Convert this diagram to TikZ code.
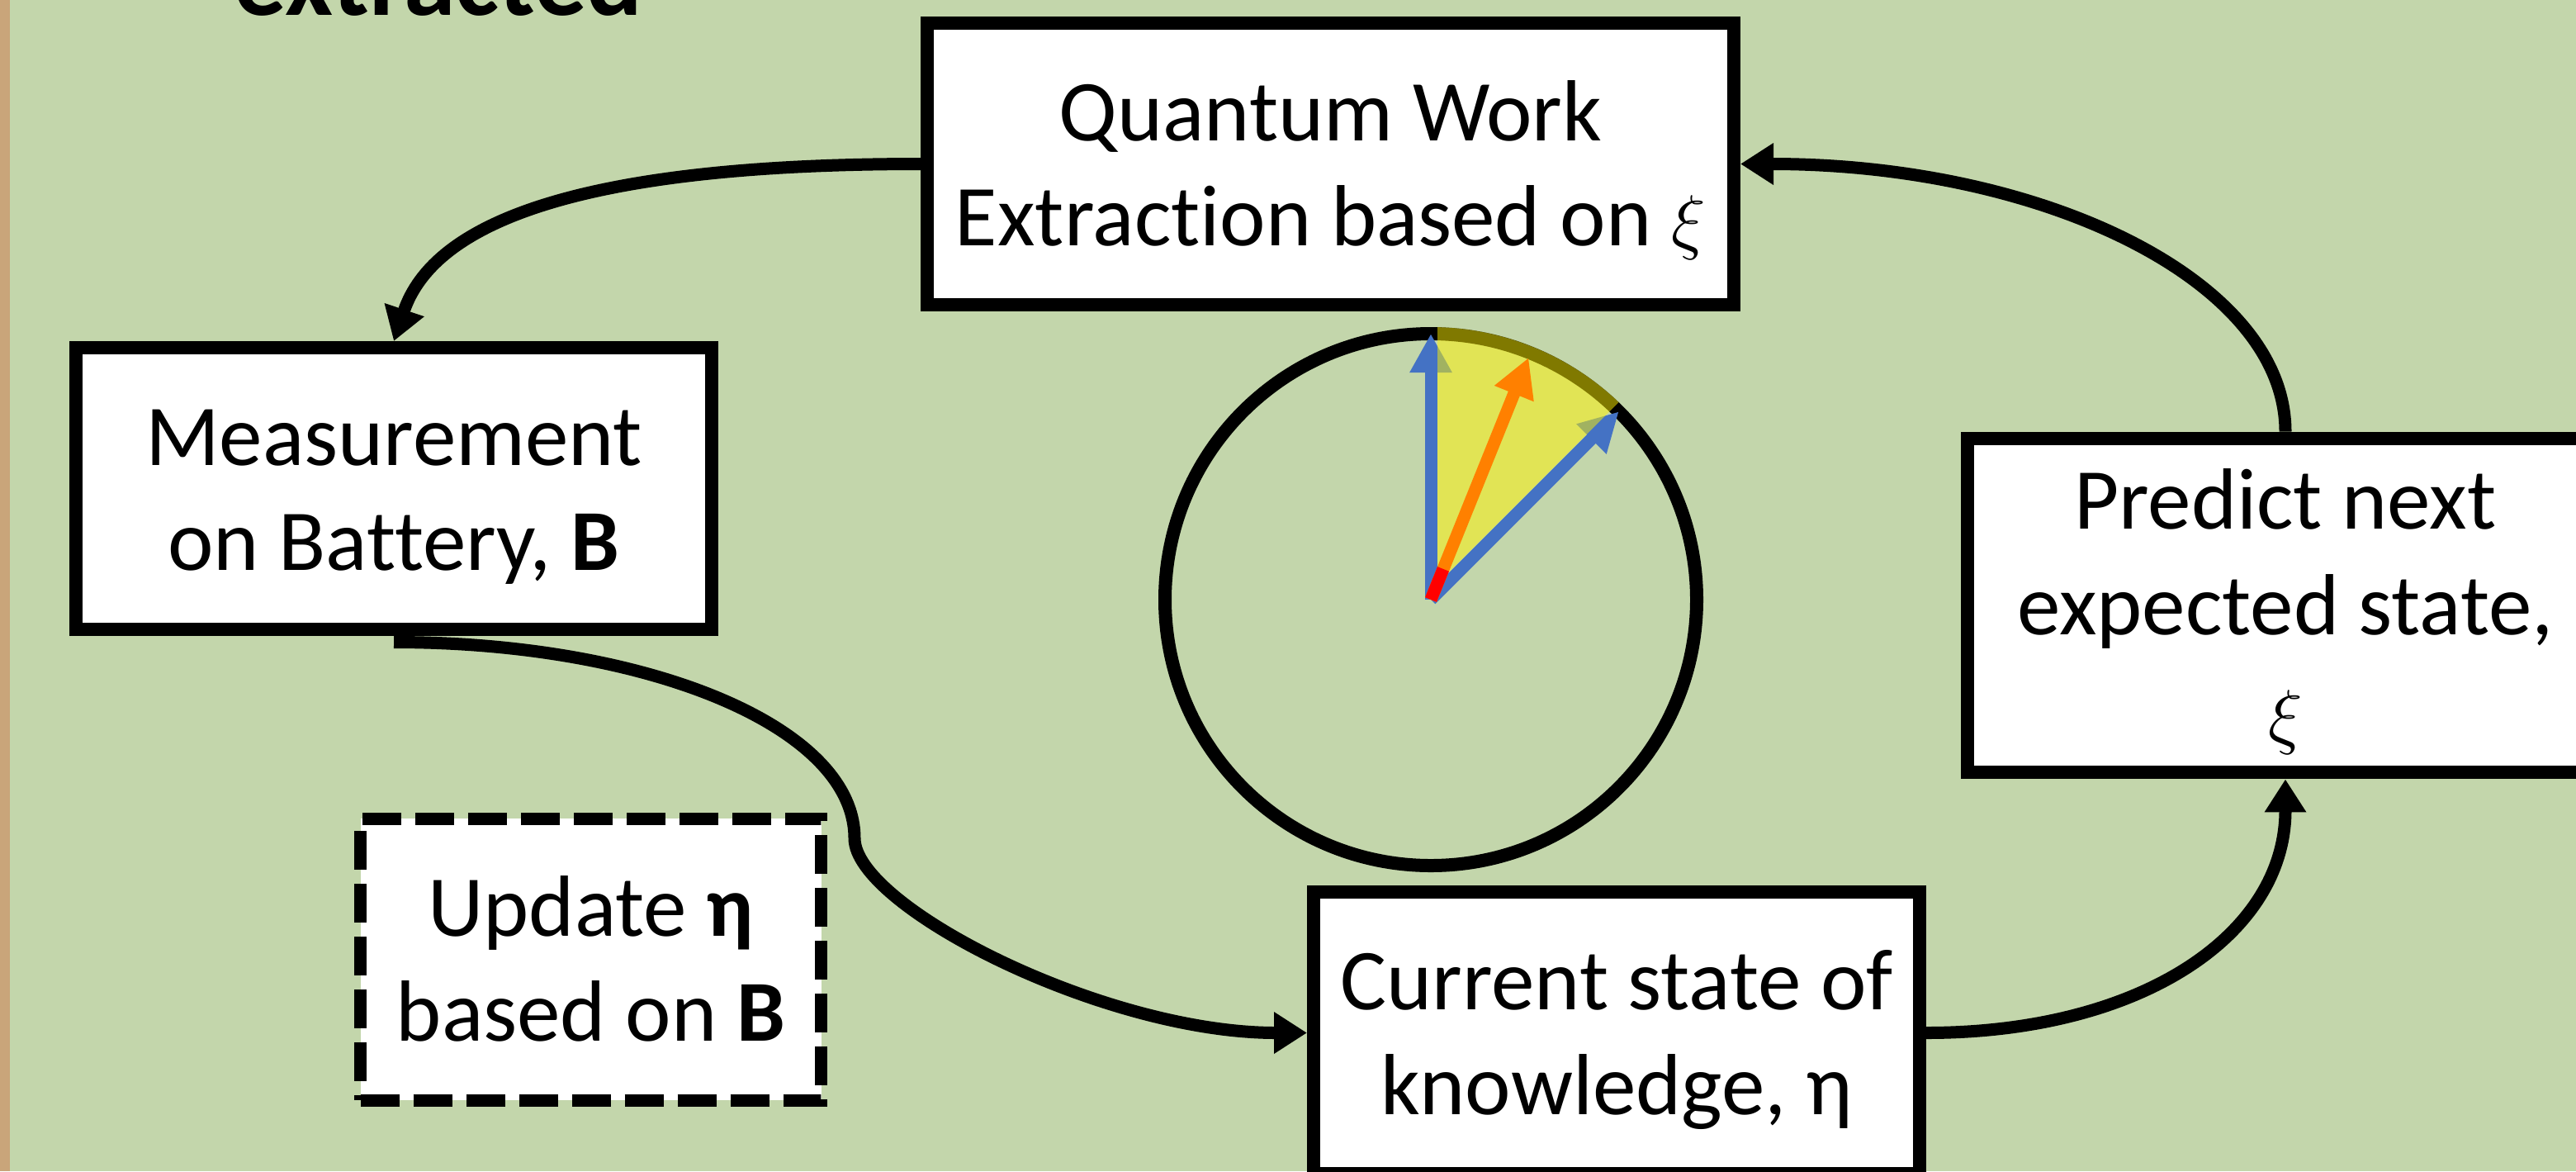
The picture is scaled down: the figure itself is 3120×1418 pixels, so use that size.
\documentclass[tikz,border=0pt]{standalone}
\usepackage{fontspec}
\setmainfont{Carlito}[Ligatures=CommonOff]
\usepackage{tikz}
\usetikzlibrary{arrows.meta}

\definecolor{bgGreen}{RGB}{195,214,171}
\definecolor{sideTan}{RGB}{201,165,122}
\definecolor{vecBlue}{RGB}{68,114,196}
\definecolor{vecOrange}{RGB}{255,128,0}

% struts so every box sets its lines at the same height
\newcommand{\hiStrut}{\rule{0pt}{11mm}}
\newcommand{\loStrut}{\rule[-3.9mm]{0pt}{0pt}}

\begin{document}
\begin{tikzpicture}[
    x=0.1mm, y=0.1mm,
    % --- STYLES ---
    stage/.style={
        rectangle, draw=black, fill=white,
        line width=1.6mm,
        minimum height=34.1mm,
        align=center, inner sep=0pt,
        font=\fontsize{29.9}{36.4}\selectfont
    },
    update/.style={stage, line width=1.5mm, dash pattern=on 4.7mm off 1.7mm},
    flow/.style={line width=1.5mm, -{Triangle[length=4mm, width=4.8mm]}},
    vec/.style={line width=1.5mm, -{Triangle[length=4.7mm, width=4.8mm]}}
]

% ===== 1. CANVAS =====
\useasboundingbox (0,0) rectangle (3120,-1418);
\clip (0,0) rectangle (3120,-1418);
\fill[bgGreen] (0,0) rectangle (3120,-1418);
\fill[sideTan] (0,0) rectangle (12,-1418);

\node[font=\bfseries\fontsize{36}{43}\selectfont, anchor=base] (ttl) at (531,-18) {extracted};

% ===== 2. BOXES =====
\node[stage, minimum width=97.7mm] (quant) at (1611.5,-198.5) {\hiStrut Quantum Work\\Extraction based on $\xi$\loStrut};

\node[stage, minimum width=77mm] (meas) at (477,-591.5) {\hiStrut Measurement\\on Battery, \textbf{B}\loStrut};

\node[update, minimum width=55.8mm] (upd) at (715.5,-1161.5) {\hiStrut Update \textbf{η}\\based on \textbf{B}\loStrut};

\node[stage, minimum width=73.4mm] (cur) at (1958,-1250.5) {\hiStrut Current state of\\knowledge, η\loStrut};

\node[stage, minimum width=77mm, minimum height=39.4mm] (pred) at (2768,-733) {\hiStrut Predict next\\expected state,\\$\xi$\loStrut};

% ===== 3. STATE CIRCLE =====
\coordinate (ctr) at (1733,-726);
\draw[line width=1.6mm] (ctr) circle[radius=322];

\draw[vec, vecBlue] (ctr) -- ++(90:322);
\draw[vec, vecBlue] (ctr) -- ++(45:322);

% predicted region, between the two blue vectors
\fill[yellow, opacity=0.5, shift={(ctr)}] (8,34) -- (88.6:330)
    arc[start angle=88.6, end angle=46.4, radius=330] -- (22.6,34) -- cycle;

\draw[vec, vecOrange] (ctr) -- ++(68:316);
\draw[line width=1.5mm, red] (ctr) -- ++(68:40);

% ===== 4. CONNECTIONS =====
\coordinate (sbend) at (1035,-1015);

\draw[flow] (quant.west) .. controls +(-415,0) and +(48,143) .. (meas.north);

\draw[flow] ([yshift=-0.75mm]meas.south) .. controls +(308,0) and +(0,135) .. (sbend)
    .. controls +(0,-82) and +(-247,0) .. (cur.west);

\draw[flow] (cur.east) .. controls +(262,0) and +(0,-187) .. (pred.south);

\draw[flow] (pred.north) .. controls +(0,183) and +(366,0) .. (quant.east);

\end{tikzpicture}
\end{document}
